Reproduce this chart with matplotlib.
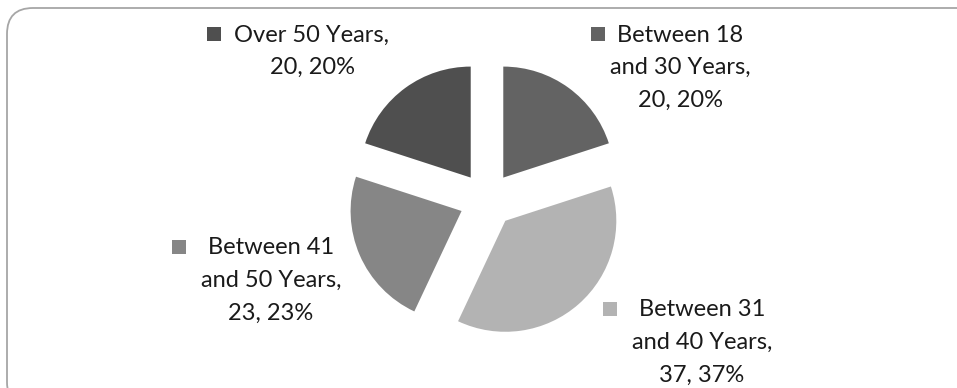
import matplotlib
matplotlib.use("Agg")
import matplotlib.pyplot as plt
from matplotlib.patches import FancyBboxPatch, Rectangle

categories = ["Between 18\nand 30 Years", "Between 31\nand 40 Years",
              "Between 41\nand 50 Years", "Over 50 Years"]
values = [20, 37, 23, 20]
colors = ["#636363", "#b3b3b3", "#868686", "#4f4f4f"]

W, H = 957, 388
fig = plt.figure(figsize=(W / 100, H / 100), dpi=100)
ax = fig.add_axes([0, 0, 1, 1])

# chart frame with rounded corners
frame = FancyBboxPatch((7, -20), 975, H - 8 + 20,
                       boxstyle="round,pad=0,rounding_size=26",
                       facecolor="white", edgecolor="#a6a6a6", linewidth=1.3,
                       zorder=0)
ax.add_patch(frame)

# exploded pie, drawn in pixel coordinates (explode is an absolute offset)
cx, cy, r = 487, H - 200, 111
offset = 27.7
ax.pie(values, colors=colors, startangle=90, counterclock=False,
       explode=[offset] * len(values), radius=r, center=(cx, cy),
       frame=True, wedgeprops=dict(linewidth=0))
ax.set_xlim(0, W)
ax.set_ylim(0, H)
ax.set_aspect("equal")
ax.axis("off")

total = sum(values)
# label anchors (text centre x, top line y in image pixels) and key position
label_pos = [
    (680, 35, 598),
    (702, 310, 610),
    (271, 248, 179),
    (312, 35, 214),
]
line_h = 32.5
font = dict(family=["Lato", "DejaVu Sans"], fontsize=17, color="#1a1a1a")

for cat, v, col, (tx, ty, kx) in zip(categories, values, colors, label_pos):
    pct = round(100 * v / total)
    lines = cat.split("\n")
    lines[-1] = lines[-1] + ","
    lines.append(f"{v}, {pct}%")
    for i, line in enumerate(lines):
        ax.text(tx, H - (ty + i * line_h), line, ha="center", va="center", **font)
    ax.add_patch(Rectangle((kx - 7, H - ty - 7 + 1), 14, 14, facecolor=col,
                           edgecolor="none"))

fig.savefig("out.png", dpi=100)
